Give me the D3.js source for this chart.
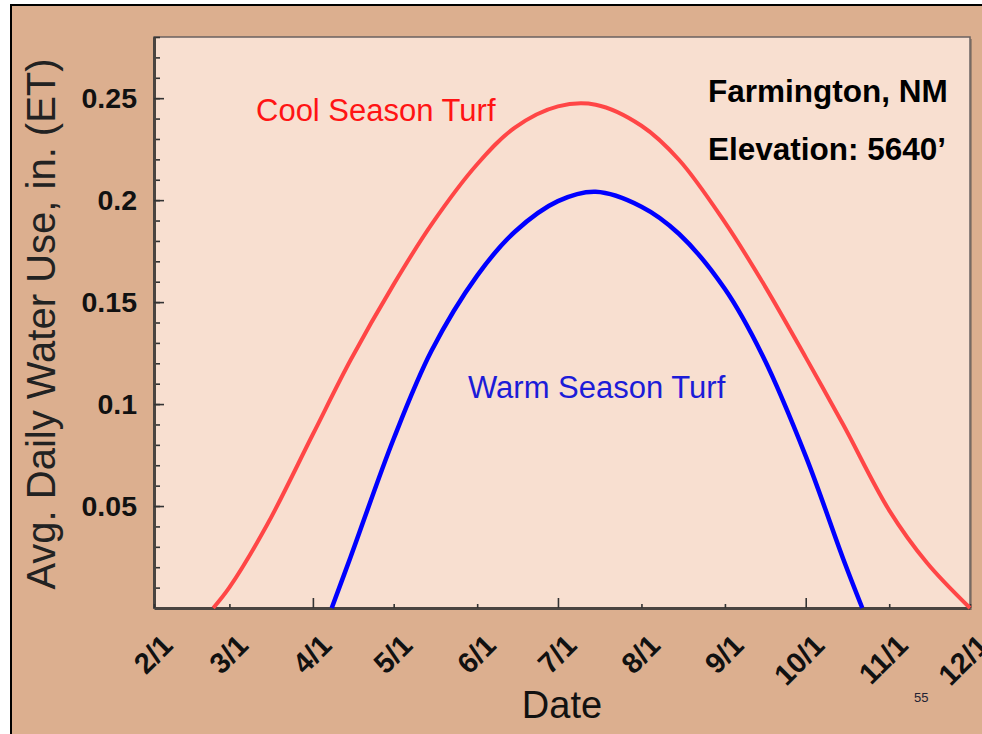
<!DOCTYPE html>
<html>
<head>
<meta charset="utf-8">
<script src="https://cdn.jsdelivr.net/npm/d3@7"></script>
<style>
  body { margin: 0; background: #ffffff; }
  text { font-family: 'Liberation Sans', Arial, sans-serif; }
</style>
</head>
<body>
<div id="chart-area"></div>
<script>
// DATA
const coolDates = ['2010-02-23', '2010-03-01', '2010-03-15', '2010-04-01', '2010-04-15',
                   '2010-05-01', '2010-05-15', '2010-06-01', '2010-06-15', '2010-07-01',
                   '2010-07-15', '2010-08-01', '2010-08-15', '2010-09-01', '2010-09-15',
                   '2010-10-01', '2010-10-15', '2010-11-01', '2010-11-15', '2010-12-01']
const coolValues = [0, 0.0101, 0.0408, 0.0852, 0.1216,
                    0.1587, 0.1880, 0.2176, 0.2356, 0.2460,
                    0.2468, 0.2365, 0.2197, 0.1891, 0.1597,
                    0.1229, 0.0897, 0.0479, 0.0222, 0]

const warmDates = ['2010-04-08', '2010-04-15', '2010-05-01', '2010-05-15', '2010-06-01',
                   '2010-06-15', '2010-07-01', '2010-07-15', '2010-08-01', '2010-08-15',
                   '2010-09-01', '2010-09-15', '2010-10-01', '2010-10-15', '2010-10-22']
const warmValues = [0, 0.025, 0.083, 0.126, 0.163,
                    0.1845, 0.1995, 0.2041, 0.1968, 0.1834,
                    0.1564, 0.1237, 0.0745, 0.0238, 0]

const monthTicks = ['2010-02-01', '2010-03-01', '2010-04-01', '2010-05-01', '2010-06-01',
                    '2010-07-01', '2010-08-01', '2010-09-01', '2010-10-01', '2010-11-01',
                    '2010-12-01']
const monthLabels = ['2/1', '3/1', '4/1', '5/1', '6/1', '7/1', '8/1', '9/1', '10/1', '11/1', '12/1']

const yMajorTicks = [0.05, 0.1, 0.15, 0.2, 0.25]
const yMajorLabels = ['0.05', '0.1', '0.15', '0.2', '0.25']
const yMinorTicks = d3.range(1, 29).map(d => d / 100)

const margin = {
    bottom: 126,
    left: 154,
    right: 12,
    top: 37
}

const W = 982
const H = 734
const width = W - margin.left - margin.right
const height = H - margin.top - margin.bottom

const parse = d3.timeParse('%Y-%m-%d')

const svg = d3.select('#chart-area')
              .append('svg')
              .attr('width', W)
              .attr('height', H)

// SLIDE BACKGROUND + FRAME
svg.append('rect')
   .attr('x', 11)
   .attr('y', 5)
   .attr('width', W + 10)
   .attr('height', H + 10)
   .attr('fill', '#dcaf8f')
   .attr('stroke', '#000')
   .attr('stroke-width', 2)

const g = svg.append('g')
             .attr('transform', 'translate(' + margin.left + ',' + margin.top + ')')

// shadow + plot area
g.append('rect')
 .attr('x', 2)
 .attr('y', 2)
 .attr('width', width)
 .attr('height', height)
 .attr('fill', '#a08470')

g.append('rect')
 .attr('width', width)
 .attr('height', height)
 .attr('fill', '#f8dfd0')
 .attr('stroke', '#6a6260')
 .attr('stroke-width', 1.5)

const x = d3.scaleTime()
            .domain([parse('2010-02-01'), parse('2010-12-01')])
            .range([0, width])

const y = d3.scaleLinear()
            .domain([0, 0.28])
            .range([height, 0])

// Y AXIS (ticks pointing inward)
g.append('g')
 .attr('class', 'y-minor')
 .call(d3.axisLeft(y).tickValues(yMinorTicks).tickSize(-6).tickSizeOuter(0).tickFormat(''))

const yAxis = g.append('g')
               .attr('class', 'y-axis')
               .call(d3.axisLeft(y)
                       .tickValues(yMajorTicks)
                       .tickSize(-10)
                       .tickSizeOuter(0)
                       .tickPadding(17)
                       .tickFormat((d, i) => yMajorLabels[i]))

yAxis.selectAll('text')
     .attr('font-size', '28.5px')
     .attr('font-weight', 'bold')
     .attr('fill', '#111')

// X AXIS
const xAxis = g.append('g')
               .attr('class', 'x-axis')
               .attr('transform', 'translate(0,' + height + ')')
               .call(d3.axisBottom(x)
                       .tickValues(monthTicks.map(parse))
                       .tickSize(-4)
                       .tickSizeOuter(0)
                       .tickFormat((d, i) => monthLabels[i]))

// quarter months get a longer tick
xAxis.selectAll('.tick line')
     .attr('y2', d => [0, 3, 6, 9].includes(d.getMonth()) ? -10 : -4)

xAxis.selectAll('text')
     .attr('x', 0)
     .attr('y', 0)
     .attr('dy', 0)
     .attr('text-anchor', 'end')
     .attr('transform', 'translate(20,39) rotate(-45)')
     .attr('font-size', '29px')
     .attr('font-weight', 'bold')
     .attr('fill', '#111')

svg.selectAll('.y-minor .tick line, .y-axis .tick line, .x-axis .tick line')
   .attr('stroke', '#333')
   .attr('stroke-width', 1.6)

svg.selectAll('.domain')
   .attr('stroke', '#4a4440')
   .attr('stroke-width', 3)

// LINES
const line = d3.line()
               .x(d => x(d.date))
               .y(d => y(d.value))
               .curve(d3.curveCatmullRom.alpha(0.5))

const cool = coolDates.map((d, i) => ({ date: parse(d), value: coolValues[i] }))
const warm = warmDates.map((d, i) => ({ date: parse(d), value: warmValues[i] }))

g.append('path')
 .datum(cool)
 .attr('d', line)
 .attr('fill', 'none')
 .attr('stroke', '#ff4646')
 .attr('stroke-width', 4)

g.append('path')
 .datum(warm)
 .attr('d', line)
 .attr('fill', 'none')
 .attr('stroke', '#0000ff')
 .attr('stroke-width', 4.5)

// LABELS
svg.append('text')
   .attr('x', 256)
   .attr('y', 121)
   .attr('font-size', '31px')
   .attr('fill', '#ff1414')
   .text('Cool Season Turf')

svg.append('text')
   .attr('x', 468)
   .attr('y', 398)
   .attr('font-size', '31px')
   .attr('fill', '#1c1cd8')
   .text('Warm Season Turf')

svg.append('text')
   .attr('x', 708)
   .attr('y', 102)
   .attr('font-size', '31.5px')
   .attr('font-weight', 'bold')
   .text('Farmington, NM')

svg.append('text')
   .attr('x', 708)
   .attr('y', 160)
   .attr('font-size', '31.5px')
   .attr('font-weight', 'bold')
   .text('Elevation: 5640’')

svg.append('text')
   .attr('class', 'x-axis-label')
   .attr('x', 562)
   .attr('y', 718)
   .attr('text-anchor', 'middle')
   .attr('font-size', '38px')
   .attr('fill', '#111')
   .text('Date')

svg.append('text')
   .attr('class', 'y-axis-label')
   .attr('x', -324)
   .attr('y', 55)
   .attr('text-anchor', 'middle')
   .attr('font-size', '40px')
   .attr('fill', '#222')
   .attr('transform', 'rotate(-90)')
   .text('Avg. Daily Water Use, in. (ET)')

svg.append('text')
   .attr('x', 914)
   .attr('y', 702)
   .attr('font-size', '13px')
   .attr('fill', '#223')
   .text('55')
</script>
</body>
</html>
